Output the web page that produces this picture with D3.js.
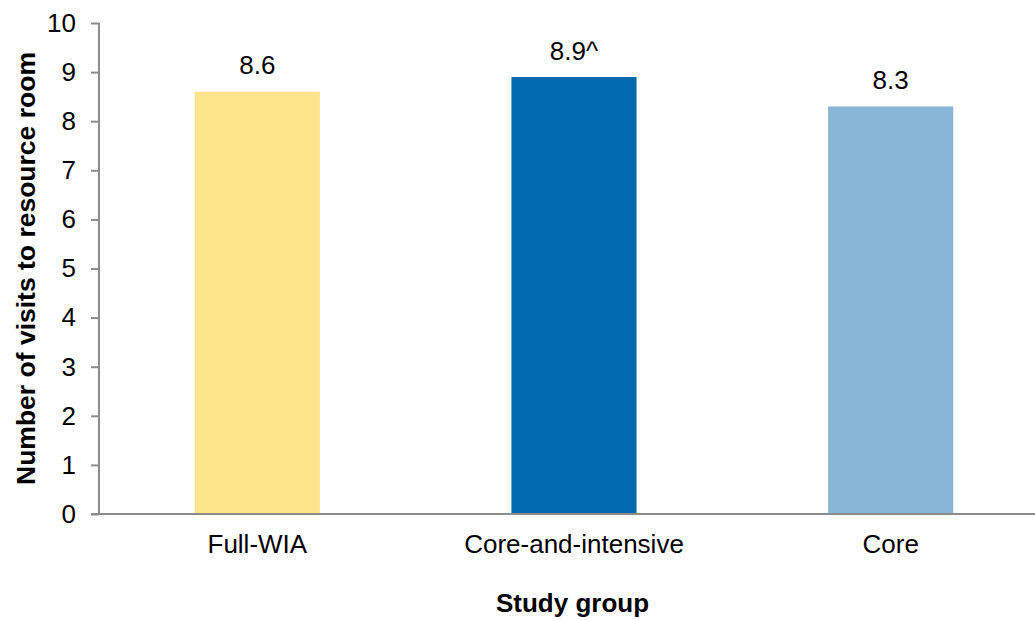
<!DOCTYPE html>
<html>
<head>
<meta charset="utf-8">
<script src="https://cdn.jsdelivr.net/npm/d3@7/dist/d3.min.js"></script>
<style>
  html, body { margin: 0; padding: 0; background: #fff; }
  svg { display: block; font-family: "Liberation Sans", Arial, sans-serif; }
</style>
</head>
<body>
<svg id="chart" width="1035" height="620"></svg>
<script>
// Average visits to the resource room by study group
const groups = ["Full-WIA", "Core-and-intensive", "Core"];
const visits = [8.6, 8.9, 8.3];
const valueLabels = ["8.6", "8.9^", "8.3"];
const barColors = ["#FEE48A", "#0068AD", "#87B6D7"];
const yTicks = [0, 1, 2, 3, 4, 5, 6, 7, 8, 9, 10];

const svg = d3.select("#chart");
const plot = { left: 99, right: 1049, top: 23, bottom: 514 };
const axisColor = "#8c8c8c";
const fontFamily = "'Liberation Sans', Arial, sans-serif";

const x = d3.scaleBand()
  .domain(groups)
  .range([plot.left, plot.right])
  .paddingInner(0.605)
  .paddingOuter(0.3025);

const y = d3.scaleLinear().domain([0, 10]).range([plot.bottom, plot.top]);

// Bars
svg.append("g")
  .selectAll("rect")
  .data(groups)
  .join("rect")
  .attr("x", d => x(d))
  .attr("width", x.bandwidth())
  .attr("y", (d, i) => y(visits[i]))
  .attr("height", (d, i) => y(0) - y(visits[i]))
  .attr("fill", (d, i) => barColors[i]);

// Value labels above bars
svg.append("g")
  .selectAll("text")
  .data(groups)
  .join("text")
  .attr("x", d => x(d) + x.bandwidth() / 2)
  .attr("y", (d, i) => y(visits[i]) - 17.5)
  .attr("text-anchor", "middle")
  .attr("font-size", 26)
  .attr("fill", "#000")
  .text((d, i) => valueLabels[i]);

// Y axis
const yAxis = svg.append("g")
  .attr("transform", `translate(${plot.left},0)`)
  .call(d3.axisLeft(y).tickValues(yTicks).tickSize(8).tickPadding(15).tickFormat(d3.format("d")));
yAxis.select(".domain").attr("stroke", axisColor).attr("stroke-width", 2)
  .attr("d", `M0,${plot.top}V${plot.bottom}`);
yAxis.selectAll(".tick line").attr("stroke", axisColor).attr("stroke-width", 2);
yAxis.selectAll(".tick text").attr("font-size", 26).attr("fill", "#000")
  .attr("font-family", fontFamily);

// X axis
const xAxis = svg.append("g")
  .attr("transform", `translate(0,${plot.bottom})`)
  .call(d3.axisBottom(x).tickSize(0).tickPadding(21));
xAxis.select(".domain").attr("stroke", axisColor).attr("stroke-width", 2)
  .attr("d", `M${plot.left - 8},0H${plot.right}`);
xAxis.selectAll(".tick text").attr("font-size", 26).attr("fill", "#000")
  .attr("font-family", fontFamily);

// Axis titles
svg.append("text")
  .attr("x", (plot.left + plot.right) / 2 - 1.5)
  .attr("y", 612)
  .attr("text-anchor", "middle")
  .attr("font-size", 26)
  .attr("font-weight", "bold")
  .text("Study group");

svg.append("text")
  .attr("transform", `translate(35,${(plot.top + plot.bottom) / 2}) rotate(-90)`)
  .attr("text-anchor", "middle")
  .attr("font-size", 26.5)
  .attr("font-weight", "bold")
  .text("Number of visits to resource room");
</script>
</body>
</html>
